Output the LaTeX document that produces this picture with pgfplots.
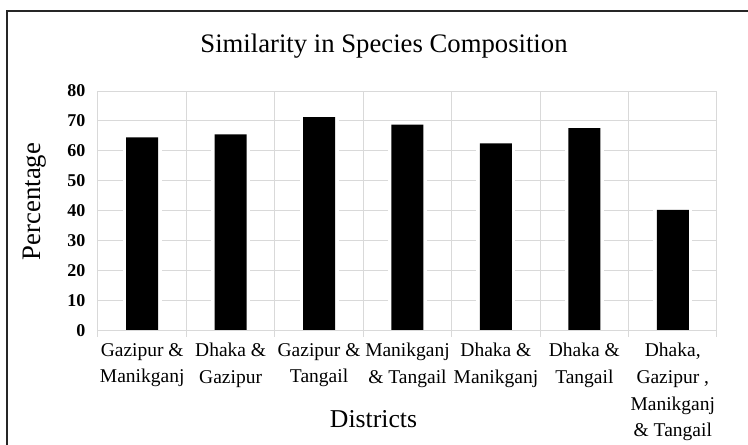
\documentclass[border=0pt]{standalone}
\usepackage{pgfplots}
\pgfplotsset{compat=1.18}
\usepackage{fontspec}
\setmainfont{Liberation Serif}
\definecolor{gridc}{HTML}{D9D9D9}
\begin{document}
\begin{tikzpicture}[x=1pt,y=1pt]
\useasboundingbox (0,0) rectangle (748,445);
\draw[line width=2pt, black!85] (7,-20) -- (7,434) -- (770,434);
\begin{axis}[
  at={(98pt,114.3pt)}, anchor=south west,
  scale only axis, width=619pt, height=239.7pt,
  xmin=0, xmax=7, ymin=0, ymax=80,
  ytick={0,10,...,80},
  xtick={0.5,1.5,...,6.5},
  xticklabels={{Gazipur \&\\Manikganj},{Dhaka \&\\Gazipur},{Gazipur \&\\Tangail},{Manikganj\\\& Tangail},{Dhaka \&\\Manikganj},{Dhaka \&\\Tangail},{Dhaka,\\Gazipur ,\\Manikganj\\\& Tangail}},
  minor xtick={0,1,...,7},
  xminorgrids, ymajorgrids,
  grid style={gridc, line width=1pt},
  minor grid style={gridc, line width=1pt},
  axis line style={draw=none},
  tick pos=left,
  major tick length=0pt,
  minor tick length=6pt,
  tick align=outside,
  minor tick style={gridc, line width=1pt},
  /pgf/number format/assume math mode=true,
  yticklabel style={font=\fontsize{18}{18}\bfseries, xshift=-9pt},
  xticklabel style={font=\fontsize{19.5}{26.7}\selectfont, align=center, anchor=north, yshift=-9pt},
  ybar, bar width=32pt,
]
\addplot[fill=black, draw=none, preaction={draw=white, line width=7pt}] coordinates {
  (0.5,64.5) (1.5,65.5) (2.5,71.3) (3.5,68.8) (4.5,62.5) (5.5,67.6) (6.5,40.3)
};
\draw[gridc, line width=1pt] (axis cs:0,0) -- (axis cs:7,0);
\end{axis}
\node[anchor=base, font=\fontsize{26.7}{30}\selectfont] at (384,392) {Similarity in Species Composition};
\node[anchor=base, font=\fontsize{25.7}{30}\selectfont] at (373.5,17.7) {Districts};
\node[anchor=base, rotate=90, font=\fontsize{26.7}{30}\selectfont] at (41,243.5) {Percentage};
\end{tikzpicture}
\end{document}
